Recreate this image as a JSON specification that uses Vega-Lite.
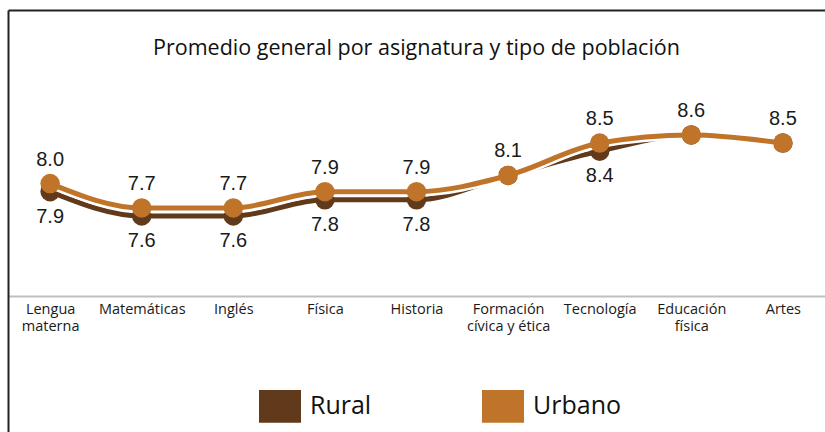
{
  "$schema": "https://vega.github.io/schema/vega-lite/v6.json",
  "autosize": {"type": "none"},
  "padding": {"left": 8, "top": 10, "right": 0, "bottom": 0},
  "width": 817,
  "height": 422,
  "background": "white",
  "title": {
    "text": "Promedio general por asignatura y tipo de población",
    "font": "Open Sans",
    "fontSize": 21.5,
    "fontWeight": "normal",
    "color": "#111111",
    "anchor": "middle",
    "frame": "group",
    "offset": -49
  },
  "data": {
    "values": [
      {"asignatura": "Lengua materna", "Rural": 7.9, "Urbano": 8.0},
      {"asignatura": "Matemáticas", "Rural": 7.6, "Urbano": 7.7},
      {"asignatura": "Inglés", "Rural": 7.6, "Urbano": 7.7},
      {"asignatura": "Física", "Rural": 7.8, "Urbano": 7.9},
      {"asignatura": "Historia", "Rural": 7.8, "Urbano": 7.9},
      {"asignatura": "Formación cívica y ética", "Rural": 8.1, "Urbano": 8.1},
      {"asignatura": "Tecnología", "Rural": 8.4, "Urbano": 8.5},
      {"asignatura": "Educación física", "Rural": 8.6, "Urbano": 8.6},
      {"asignatura": "Artes", "Rural": 8.5, "Urbano": 8.5}
    ]
  },
  "transform": [
    {"fold": ["Rural", "Urbano"], "as": ["tipo", "promedio"]}
  ],
  "encoding": {
    "x": {
      "field": "asignatura",
      "type": "nominal",
      "sort": null,
      "scale": {"type": "point", "padding": 0.46},
      "axis": null
    },
    "y": {
      "field": "promedio",
      "type": "quantitative",
      "scale": {"domain": [4.933, 10.143], "nice": false, "zero": false},
      "axis": {
        "orient": "left",
        "title": null,
        "domainColor": "#222222",
        "domainWidth": 2,
        "ticks": false,
        "labels": false,
        "grid": false
      }
    }
  },
  "layer": [
    {
      "transform": [{"filter": "datum.tipo == 'Rural'"}],
      "mark": {"type": "line", "interpolate": "monotone", "strokeWidth": 5, "strokeCap": "round"},
      "encoding": {
        "x": {
          "field": "asignatura",
          "type": "nominal",
          "sort": null,
          "axis": {
            "orient": "bottom",
            "title": null,
            "offset": -136,
            "domainColor": "#bfbfbf",
            "domainWidth": 2,
            "ticks": false,
            "labelAngle": 0,
            "labelFont": "Open Sans",
            "labelFontSize": 14.5,
            "labelColor": "#1a1a1a",
            "labelPadding": 6,
            "labelLineHeight": 17,
            "labelBaseline": "top",
            "labelExpr": "indexof(datum.label, ' ') > 0 ? [substring(datum.label, 0, indexof(datum.label, ' ')), substring(datum.label, indexof(datum.label, ' ') + 1)] : datum.label"
          }
        },
        "color": {
          "field": "tipo",
          "type": "nominal",
          "scale": {"domain": ["Rural", "Urbano"], "range": ["#613a1c", "#bf7429"]},
          "legend": {
            "orient": "none",
            "legendX": 251,
            "legendY": 375,
            "direction": "horizontal",
            "title": null,
            "symbolType": "M-1,-0.78H1V0.78H-1Z",
            "symbolSize": 1764,
            "symbolStrokeWidth": 0,
            "labelFont": "Open Sans",
            "labelFontSize": 25,
            "labelColor": "#111111",
            "labelOffset": 9,
            "columnPadding": 110,
            "padding": 0,
            "encode": {
              "symbols": {
                "update": {
                  "fill": {"scale": "color", "field": "value"},
                  "stroke": {"value": "transparent"},
                  "opacity": {"value": 1}
                }
              }
            }
          }
        }
      }
    },
    {
      "transform": [{"filter": "datum.tipo == 'Rural'"}],
      "mark": {"type": "point", "shape": "circle", "filled": true, "size": 380, "opacity": 1},
      "encoding": {
        "x": {
          "field": "asignatura",
          "type": "nominal",
          "sort": null,
          "axis": {
            "orient": "top",
            "title": null,
            "domainColor": "#222222",
            "domainWidth": 2,
            "ticks": false,
            "labels": false,
            "grid": false
          }
        },
        "color": {"field": "tipo", "type": "nominal"}
      }
    },
    {
      "transform": [{"filter": "datum.tipo == 'Urbano'"}],
      "mark": {"type": "line", "interpolate": "monotone", "strokeWidth": 10, "color": "white", "strokeCap": "round"},
      "encoding": {}
    },
    {
      "transform": [{"filter": "datum.tipo == 'Urbano'"}],
      "mark": {"type": "line", "interpolate": "monotone", "strokeWidth": 5, "strokeCap": "round"},
      "encoding": {
        "color": {"field": "tipo", "type": "nominal"}
      }
    },
    {
      "transform": [{"filter": "datum.tipo == 'Urbano'"}],
      "mark": {"type": "point", "shape": "circle", "filled": true, "size": 380, "opacity": 1},
      "encoding": {
        "color": {"field": "tipo", "type": "nominal"}
      }
    },
    {
      "transform": [{"filter": "datum.tipo == 'Urbano'"}],
      "mark": {"type": "text", "font": "Liberation Sans", "fontSize": 20, "color": "#1a1a1a", "dy": -24, "baseline": "middle", "align": "center"},
      "encoding": {
        "text": {"field": "promedio", "type": "quantitative", "format": ".1f"}
      }
    },
    {
      "transform": [{"filter": "datum.tipo == 'Rural' && datum.Rural != datum.Urbano"}],
      "mark": {"type": "text", "font": "Liberation Sans", "fontSize": 20, "color": "#1a1a1a", "dy": 25, "baseline": "middle", "align": "center"},
      "encoding": {
        "text": {"field": "promedio", "type": "quantitative", "format": ".1f"}
      }
    }
  ],
  "resolve": {"axis": {"x": "independent"}},
  "config": {
    "view": {"stroke": null}
  }
}
